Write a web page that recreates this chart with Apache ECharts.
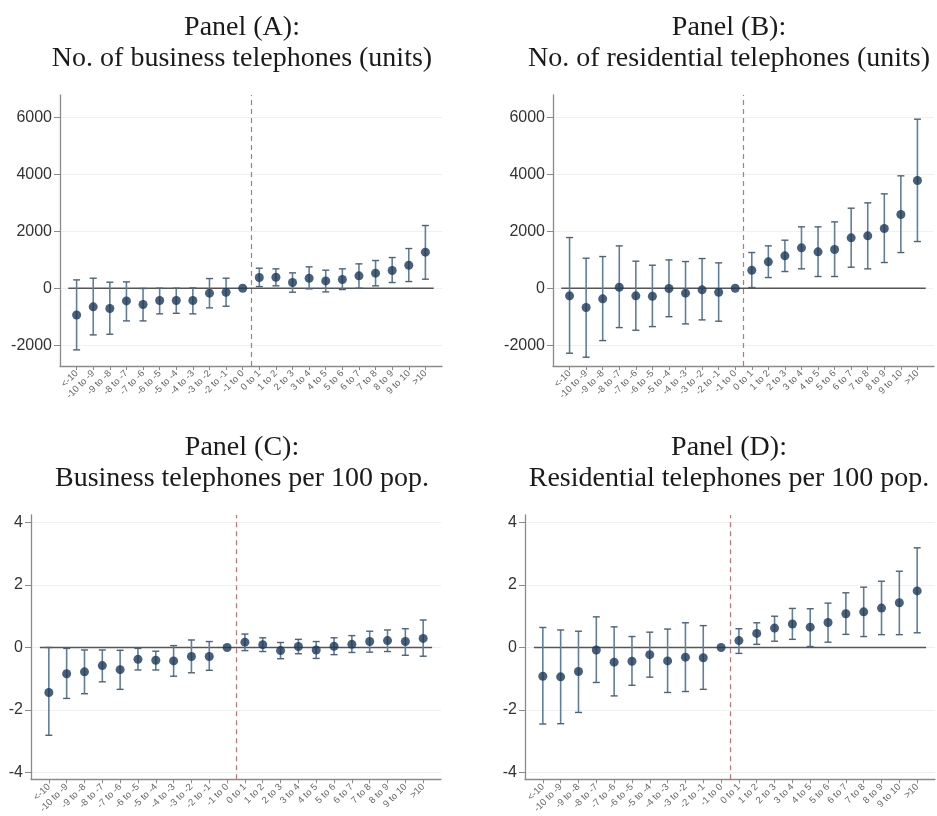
<!DOCTYPE html>
<html><head><meta charset="utf-8">
<script src="https://cdn.jsdelivr.net/npm/echarts@6/dist/echarts.min.js"></script>
<style>html,body{margin:0;padding:0;background:#fff}#c{width:937px;height:816px}</style>
</head><body><div id="c"></div>
<script>
// ---------- data ----------
const categories = ['<-10','-10 to -9','-9 to -8','-8 to -7','-7 to -6','-6 to -5','-5 to -4','-4 to -3','-3 to -2','-2 to -1','-1 to 0',
  '0 to 1','1 to 2','2 to 3','3 to 4','4 to 5','5 to 6','6 to 7','7 to 8','8 to 9','9 to 10','>10'];

const titlesA = ['Panel (A):', 'No. of business telephones (units)'];
const titlesB = ['Panel (B):', 'No. of residential telephones (units)'];
const titlesC = ['Panel (C):', 'Business telephones per 100 pop.'];
const titlesD = ['Panel (D):', 'Residential telephones per 100 pop.'];

const ticksUnits = [-2000, 0, 2000, 4000, 6000];
const ticksPop = [-4, -2, 0, 2, 4];

// Panel A: business telephones (units)
const aEst = [-940,-655,-714,-445,-573,-433,-433,-433,-175,-140,0, 374,386,199,351,257,304,433,527,620,807,1264];
const aLo  = [-2165,-1639,-1615,-1147,-1147,-901,-880,-900,-690,-632,null, 58,82,-140,-23,-129,-47,0,82,199,234,316];
const aHi  = [292,351,211,222,-10,0,0,10,339,351,null, 702,679,538,749,632,679,854,971,1076,1392,2200];

// Panel B: residential telephones (units)
const bEst = [-269,-679,-374,35,-269,-281,-12,-175,-58,-140,0, 632,924,1135,1416,1275,1357,1767,1837,2094,2586,3779];
const bLo  = [-2281,-2421,-1838,-1382,-1475,-1347,-1000,-1253,-1112,-1158,null, 23,374,585,679,410,410,737,679,901,1252,1638];
const bHi  = [1778,1053,1111,1486,948,807,994,936,1041,889,null, 1252,1486,1685,2153,2153,2328,2808,2995,3311,3943,5932];

// Panel C: business telephones per 100 pop.
const cEst = [-1.44,-0.84,-0.78,-0.58,-0.71,-0.38,-0.41,-0.43,-0.29,-0.29,0, 0.17,0.09,-0.10,0.03,-0.08,0.04,0.10,0.19,0.22,0.19,0.29];
const cLo  = [-2.81,-1.63,-1.48,-1.10,-1.34,-0.72,-0.72,-0.92,-0.81,-0.73,null, -0.10,-0.13,-0.36,-0.20,-0.35,-0.23,-0.16,-0.15,-0.13,-0.25,-0.28];
const cHi  = [0.00,-0.03,-0.08,-0.08,-0.09,-0.03,-0.12,0.06,0.24,0.19,null, 0.43,0.31,0.16,0.26,0.19,0.31,0.38,0.52,0.56,0.60,0.88];

// Panel D: residential telephones per 100 pop.
const dEst = [-0.92,-0.94,-0.77,-0.08,-0.47,-0.44,-0.23,-0.43,-0.31,-0.33,0, 0.22,0.45,0.62,0.75,0.65,0.80,1.08,1.14,1.26,1.43,1.81];
const dLo  = [-2.45,-2.44,-2.08,-1.12,-1.55,-1.21,-0.95,-1.44,-1.41,-1.34,null, -0.19,0.10,0.20,0.26,0.03,0.17,0.42,0.35,0.41,0.41,0.47];
const dHi  = [0.64,0.56,0.52,0.98,0.66,0.35,0.49,0.59,0.79,0.70,null, 0.60,0.79,1.00,1.25,1.24,1.42,1.75,1.93,2.12,2.44,3.19];

const cutoff = 11.5;          // between "-1 to 0" and "0 to 1"
const zeroSpan = [0.5, 22.5];  // horizontal reference line at 0

// ---------- layout / style ----------
const panels = [
  {t: titlesA, est: aEst, lo: aLo, hi: aHi, ticks: ticksUnits, ymin: -2730, ymax: 6780,
   grid: {left: 60, top: 95, width: 382, height: 271}, tx: 237, ty: 7},
  {t: titlesB, est: bEst, lo: bLo, hi: bHi, ticks: ticksUnits, ymin: -2730, ymax: 6780,
   grid: {left: 553, top: 95, width: 381, height: 271}, tx: 724, ty: 7},
  {t: titlesC, est: cEst, lo: cLo, hi: cHi, ticks: ticksPop, ymin: -4.22, ymax: 4.24,
   grid: {left: 31, top: 515, width: 410, height: 271}, tx: 237, ty: 427},
  {t: titlesD, est: dEst, lo: dLo, hi: dHi, ticks: ticksPop, ymin: -4.22, ymax: 4.24,
   grid: {left: 525, top: 515, width: 410, height: 271}, tx: 724, ty: 427}
];

const xPositions = categories.map((_, i) => i + 1);

const axisColor = '#8a8a8a';
const pointColor = '#1a3858';
const barColor = '#5f7f9d';
const capColor = '#4d6276';

function errRender(params, api) {
  const x = api.value(0), lo = api.value(1), hi = api.value(2);
  const pLo = api.coord([x, lo]);
  const pHi = api.coord([x, hi]);
  const hw = 3.5;
  return {
    type: 'group',
    children: [
      {type: 'line', shape: {x1: pLo[0], y1: pLo[1], x2: pHi[0], y2: pHi[1]}, style: {stroke: barColor, lineWidth: 1.6}},
      {type: 'line', shape: {x1: pHi[0] - hw, y1: pHi[1], x2: pHi[0] + hw, y2: pHi[1]}, style: {stroke: capColor, lineWidth: 1.4}},
      {type: 'line', shape: {x1: pLo[0] - hw, y1: pLo[1], x2: pLo[0] + hw, y2: pLo[1]}, style: {stroke: capColor, lineWidth: 1.4}}
    ]
  };
}

const option = {
  backgroundColor: '#fff',
  animation: false,
  title: [], grid: [], xAxis: [], yAxis: [], series: []
};

panels.forEach((p, k) => {
  option.title.push({
    text: p.t.join('\n'), left: p.tx, top: p.ty, textAlign: 'center',
    textStyle: {fontFamily: 'Liberation Serif', fontWeight: 'normal', fontSize: 28, lineHeight: 31, color: '#1a1a1a'}
  });
  option.grid.push(Object.assign({containLabel: false}, p.grid));
  option.xAxis.push({
    type: 'value', gridIndex: k, min: 0, max: 23,
    axisLine: {show: true, onZero: false, lineStyle: {color: axisColor, width: 1.3}},
    axisTick: {show: true, length: 4, customValues: xPositions, lineStyle: {color: axisColor}},
    axisLabel: {
      customValues: xPositions, rotate: 45, fontSize: 9.5, color: '#666', margin: 6,
      fontFamily: 'Liberation Sans',
      formatter: v => categories[Math.round(v) - 1] || ''
    },
    splitLine: {show: false}
  });
  option.yAxis.push({
    type: 'value', gridIndex: k, min: p.ymin, max: p.ymax,
    axisLine: {show: true, onZero: false, lineStyle: {color: axisColor, width: 1.3}},
    axisTick: {show: true, length: 6, customValues: p.ticks, lineStyle: {color: axisColor}},
    axisLabel: {customValues: p.ticks, fontSize: 16, color: '#333', margin: 8, fontFamily: 'Liberation Sans',
      formatter: v => String(Math.round(v))},
    splitLine: {show: true, customValues: p.ticks, lineStyle: {color: '#f0f0f0', width: 1}}
  });
  // zero reference line
  option.series.push({
    type: 'line', xAxisIndex: k, yAxisIndex: k, symbol: 'none', silent: true,
    data: [[zeroSpan[0], 0], [zeroSpan[1], 0]],
    lineStyle: {color: '#555', width: 1.5},
    markLine: {
      silent: true, symbol: 'none', label: {show: false},
      lineStyle: {color: '#c77272', type: [5, 4], width: 1.2},
      data: [{xAxis: cutoff}]
    },
    z: 2
  });
  // error bars
  const errData = [];
  p.lo.forEach((lo, i) => { if (lo !== null) errData.push([xPositions[i], lo, p.hi[i]]); });
  option.series.push({
    type: 'custom', xAxisIndex: k, yAxisIndex: k, silent: true,
    renderItem: errRender, encode: {x: 0, y: [1, 2]}, data: errData, z: 3
  });
  // point estimates
  option.series.push({
    type: 'scatter', xAxisIndex: k, yAxisIndex: k, symbol: 'circle', symbolSize: 9,
    itemStyle: {color: pointColor}, silent: true,
    data: p.est.map((v, i) => [xPositions[i], v]), z: 4
  });
});

const chart = echarts.init(document.getElementById('c'), null, {renderer: 'canvas'});
chart.setOption(option);
</script>
</body></html>
